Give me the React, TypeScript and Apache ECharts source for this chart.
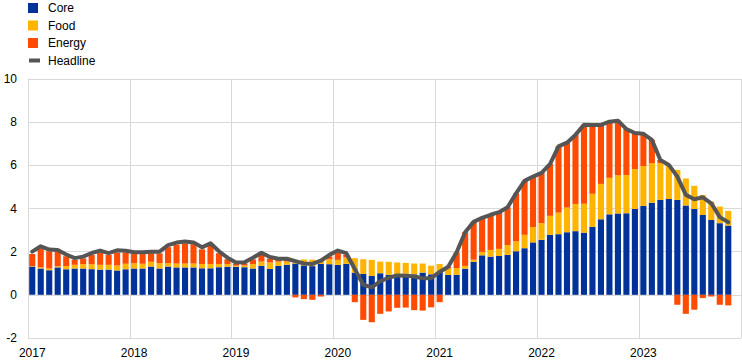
import React, { useEffect, useRef } from "react";
import * as echarts from "echarts";

const years = ["2017", "2018", "2019", "2020", "2021", "2022", "2023"];
const months = years.flatMap((y) =>
  ["01", "02", "03", "04", "05", "06", "07", "08", "09", "10", "11", "12"].map((m) => `${y}-${m}`)
);

const core = [
  1.31, 1.22, 1.14, 1.27, 1.19, 1.22, 1.22, 1.19, 1.17, 1.17, 1.13, 1.19,
  1.22, 1.22, 1.31, 1.22, 1.31, 1.27, 1.27, 1.27, 1.23, 1.23, 1.28, 1.3,
  1.3, 1.28, 1.22, 1.34, 1.2, 1.34, 1.39, 1.45, 1.36, 1.33, 1.43, 1.42,
  1.39, 1.44, 1.03, 0.97, 0.88, 1.0, 0.93, 0.95, 0.98, 0.95, 1.03, 0.95,
  1.06, 0.92, 0.93, 1.21, 1.53, 1.83, 1.77, 1.8, 1.85, 2.02, 2.16, 2.43,
  2.55, 2.78, 2.81, 2.9, 2.95, 2.88, 3.15, 3.5, 3.73, 3.77, 3.78, 3.98,
  4.12, 4.27, 4.4, 4.44, 4.4, 4.14, 3.98, 3.7, 3.47, 3.32, 3.21, null,
];

const food = [
  0.03, 0.05, 0.08, 0.05, 0.15, 0.17, 0.2, 0.23, 0.22, 0.22, 0.23, 0.25,
  0.25, 0.22, 0.22, 0.25, 0.16, 0.18, 0.18, 0.18, 0.2, 0.2, 0.15, 0.13,
  0.05, 0.08, 0.2, 0.2, 0.3, 0.2, 0.15, 0.15, 0.28, 0.3, 0.2, 0.23,
  0.23, 0.3, 0.67, 0.68, 0.74, 0.54, 0.6, 0.55, 0.5, 0.5, 0.42, 0.4,
  0.37, 0.31, 0.31, 0.13, 0.1, 0.16, 0.31, 0.33, 0.46, 0.46, 0.62, 0.71,
  0.77, 0.88, 1.0, 1.14, 1.26, 1.34, 1.53, 1.64, 1.69, 1.77, 1.77, 1.85,
  1.85, 1.83, 1.7, 1.58, 1.39, 1.25, 1.07, 0.93, 0.85, 0.77, 0.68, null,
];

const energy = [
  0.55, 0.88, 0.8, 0.68, 0.45, 0.23, 0.27, 0.43, 0.57, 0.46, 0.6, 0.52,
  0.42, 0.45, 0.4, 0.45, 0.74, 0.88, 0.93, 0.9, 0.68, 0.87, 0.5, 0.22,
  0.1, 0.1, 0.22, 0.33, 0.18, 0.08, 0.08, -0.12, -0.2, -0.23, -0.08, 0.13,
  0.35, 0.12, -0.34, -1.16, -1.27, -0.88, -0.77, -0.6, -0.59, -0.71, -0.73, -0.58,
  -0.34, 0.07, 0.73, 1.56, 1.75, 1.58, 1.63, 1.7, 1.75, 2.22, 2.5, 2.34,
  2.33, 2.4, 3.07, 3.01, 3.2, 3.66, 3.19, 2.73, 2.6, 2.53, 2.13, 1.67,
  1.49, 1.08, 0.15, 0, -0.46, -0.88, -0.69, -0.15, -0.08, -0.46, -0.49, null,
];

const headline = [
  2.0, 2.25, 2.1, 2.08, 1.87, 1.7, 1.77, 1.94, 2.05, 1.93, 2.06, 2.04,
  1.97, 1.97, 2.0, 2.0, 2.3, 2.42, 2.47, 2.43, 2.2, 2.39, 2.02, 1.72,
  1.5, 1.51, 1.72, 1.95, 1.75, 1.67, 1.67, 1.56, 1.45, 1.43, 1.58, 1.85,
  2.05, 1.93, 1.2, 0.46, 0.35, 0.64, 0.79, 0.9, 0.88, 0.85, 0.77, 0.77,
  1.06, 1.3, 1.97, 2.9, 3.38, 3.57, 3.71, 3.83, 4.06, 4.7, 5.28, 5.48,
  5.65, 6.06, 6.88, 7.05, 7.41, 7.88, 7.87, 7.87, 8.02, 8.07, 7.68, 7.5,
  7.46, 7.18, 6.25, 6.02, 5.48, 4.63, 4.43, 4.52, 4.24, 3.6, 3.36, null,
];

const legendNames = ["Core", "Food", "Energy", "Headline"];
const colors = ["#003299", "#ffb400", "#ff4b00", "#555555"];
const FONT = '"Liberation Sans", Arial, sans-serif';

export default function App() {
  const ref = useRef<HTMLDivElement>(null);
  useEffect(() => {
    if (!ref.current) return;
    const chart = echarts.init(ref.current, null, { renderer: "svg" });
    const legendGraphics: any[] = [];
    legendNames.forEach((name, i) => {
      const cy = 8 + i * 17.5;
      if (i < 3) {
        legendGraphics.push({
          type: "rect",
          shape: { x: 28, y: cy - 5, width: 10, height: 10 },
          style: { fill: colors[i] },
        });
      } else {
        legendGraphics.push({
          type: "rect",
          shape: { x: 29, y: cy - 2, width: 11, height: 4 },
          style: { fill: colors[i] },
        });
      }
      legendGraphics.push({
        type: "text",
        x: 48,
        y: cy,
        style: {
          text: name,
          fill: "#000",
          fontSize: 12,
          fontFamily: FONT,
          verticalAlign: "middle",
        },
      });
    });
    const barSeries = [
      { name: "Core", data: core, color: colors[0] },
      { name: "Food", data: food, color: colors[1] },
      { name: "Energy", data: energy, color: colors[2] },
    ].map((s) => ({
      name: s.name,
      type: "bar",
      stack: "total",
      data: s.data,
      barCategoryGap: "28%",
      itemStyle: { color: s.color },
    }));
    chart.setOption({
      animation: false,
      textStyle: { fontFamily: FONT },
      grid: { left: 28, right: 1, top: 79, bottom: 26, containLabel: false },
      graphic: legendGraphics,
      xAxis: {
        type: "category",
        data: months,
        boundaryGap: true,
        axisLine: { show: false },
        axisTick: { show: false },
        axisLabel: {
          interval: (idx: number) => idx % 12 === 0,
          formatter: (v: string) => v.slice(0, 4),
          color: "#000",
          fontSize: 12,
          fontFamily: FONT,
          margin: 9,
        },
        splitLine: {
          show: true,
          interval: (idx: number) => idx % 12 === 0,
          lineStyle: { color: "#d9d9d9", width: 1 },
        },
      },
      yAxis: {
        type: "value",
        min: -2,
        max: 10,
        interval: 2,
        axisLine: { show: true, lineStyle: { color: "#d9d9d9" } },
        axisTick: { show: false },
        axisLabel: { color: "#000", fontSize: 12, fontFamily: FONT, margin: 11 },
        splitLine: { show: true, lineStyle: { color: "#d9d9d9", width: 1 } },
      },
      series: [
        ...barSeries,
        {
          name: "Headline",
          type: "line",
          data: headline,
          showSymbol: false,
          symbol: "none",
          z: 5,
          lineStyle: { color: colors[3], width: 4, join: "round", cap: "round" },
          itemStyle: { color: colors[3] },
        },
      ],
    });
    return () => chart.dispose();
  }, []);
  return (
    <div
      ref={ref}
      style={{ position: "fixed", left: 0, top: 0, width: 742, height: 364, background: "#fff" }}
    />
  );
}
